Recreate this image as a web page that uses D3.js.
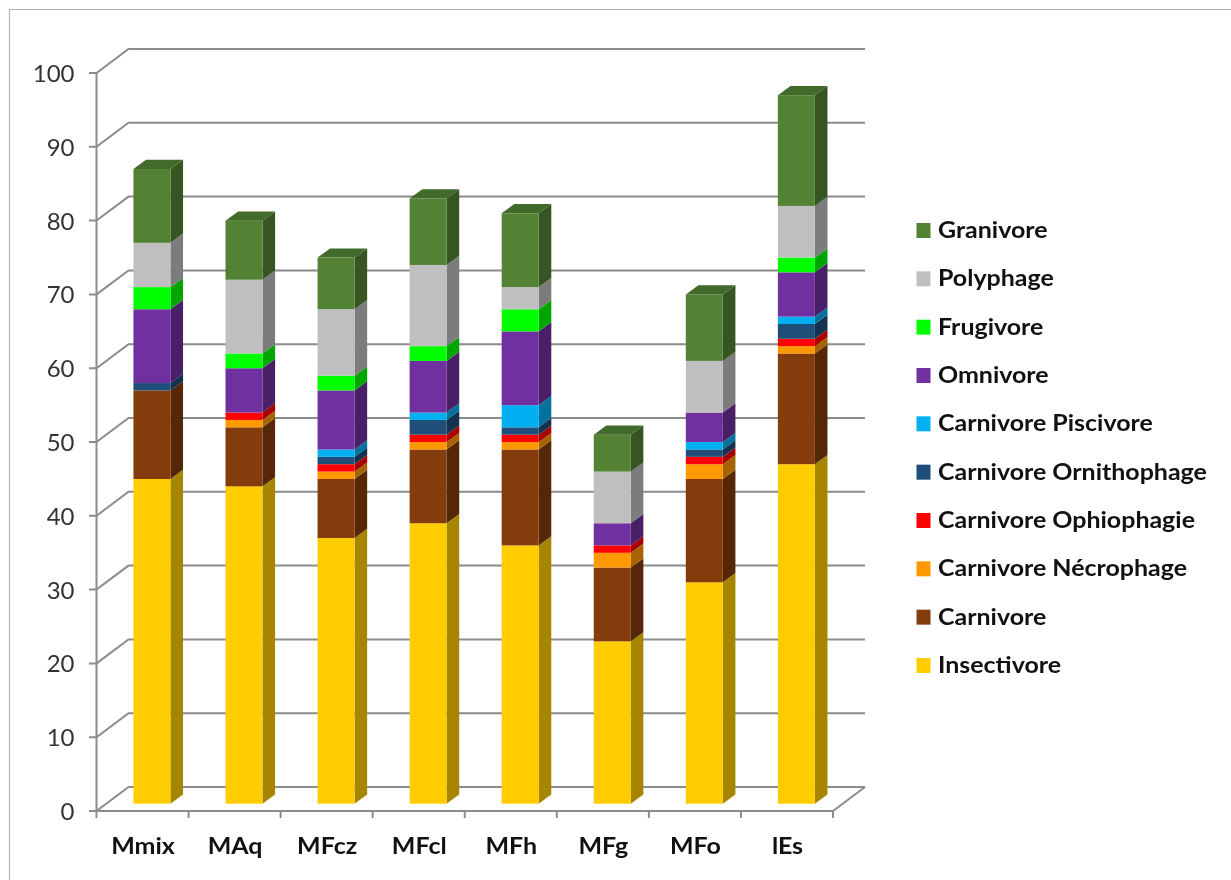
<!DOCTYPE html>
<html><head><meta charset="utf-8">
<style>html,body{margin:0;padding:0;background:#fff}svg{display:block;filter:blur(0.4px)}text{font-family:Lato,"Open Sans",sans-serif}</style>
<script src="https://cdn.jsdelivr.net/npm/d3@7/dist/d3.min.js"></script></head>
<body><svg id="c" width="1231" height="880"></svg>
<script>
const categories = ["Mmix","MAq","MFcz","MFcl","MFh","MFg","MFo","lEs"];
const seriesNames = ["Insectivore","Carnivore","Carnivore Nécrophage","Carnivore Ophiophagie","Carnivore Ornithophage","Carnivore Piscivore","Omnivore","Frugivore","Polyphage","Granivore"];
const insectivore = [44,43,36,38,35,22,30,46];
const carnivore   = [12,8,8,10,13,10,14,15];
const necrophage  = [0,1,1,1,1,2,2,1];
const ophiophagie = [0,1,1,1,1,1,1,1];
const ornithophage= [1,0,1,2,1,0,1,2];
const piscivore   = [0,0,1,1,3,0,1,1];
const omnivore    = [10,6,8,7,10,3,4,6];
const frugivore   = [3,2,2,2,3,0,0,2];
const polyphage   = [6,10,9,11,3,7,7,7];
const granivore   = [10,8,7,9,10,5,9,15];
const seriesValues = [insectivore,carnivore,necrophage,ophiophagie,ornithophage,piscivore,omnivore,frugivore,polyphage,granivore];
const frontColors = ["#FFCC00","#843C0C","#FF9900","#FF0000","#1F4E79","#00B0F0","#7030A0","#00FF00","#BFBFBF","#548235"];
const sideColors  = ["#A68500","#562706","#A66300","#A60000","#14324F","#00729C","#492068","#00A600","#7C7C7C","#365522"];
const topColors   = ["#D9AD00","#70330A","#D98200","#D90000","#1A4267","#0096CC","#5F2988","#00D900","#A2A2A2","#426A2A"];
const yTicks = [0,10,20,30,40,50,60,70,80,90,100];

const svg = d3.select("#c");
const gridColor = "#8C8C8C";
const depth = {x:32, y:-24};        // chart floor depth
const barShift = {x:9.4, y:-7.3};   // front plane of the columns
const barDepth = {x:12.6, y:-9.2};  // column depth
const stretch = 1.135;              // the picture's text is wider than the font's own shapes

const x = d3.scaleBand().domain(categories).range([96.5,833]).paddingInner(0).paddingOuter(0);
const y = d3.scaleLinear().domain([0,100]).range([811,73]);
const barW = 37;
const barX = c => x(c) + x.bandwidth()/2 - barW/2 + barShift.x;
const pt = a => a.map(p=>p.join(",")).join(" ");

// frame
svg.append("path").attr("d","M9.5,880V9.5H1231").attr("fill","none").attr("stroke","#B4B4B4").attr("stroke-width",1.2);

// walls
const grid = svg.append("g").attr("fill","none").attr("stroke",gridColor).attr("stroke-width",2);
yTicks.forEach(t=>{
  const py=y(t);
  grid.append("polyline").attr("points",pt([[89,py],[96.5,py],[96.5+depth.x,py+depth.y],[x.range()[1]+depth.x,py+depth.y]]));
});
grid.append("line").attr("x1",96.5).attr("x2",96.5).attr("y1",y(100)).attr("y2",y(0));
grid.append("polyline").attr("points",pt([[96.5,y(0)],[833,y(0)],[833+depth.x,y(0)+depth.y]]));
categories.concat(["end"]).forEach((c,i)=>{
  const px = c==="end"? 833 : x(c);
  grid.append("line").attr("x1",px).attr("x2",px).attr("y1",y(0)).attr("y2",y(0)+7);
});

// columns
const stack = d3.stack().keys(d3.range(seriesNames.length)).value((d,k)=>seriesValues[k][d]);
const layers = stack(d3.range(categories.length));
const bars = svg.append("g");
categories.forEach((c,ci)=>{
  const g = bars.append("g");
  const X = barX(c);
  let lastTop = null;
  layers.forEach((layer,si)=>{
    const [a,b] = layer[ci];
    if(b<=a) return;
    const y0=y(a)+barShift.y, y1=y(b)+barShift.y;
    g.append("polygon").attr("fill",sideColors[si]).attr("points",pt([[X+barW,y0],[X+barW+barDepth.x,y0+barDepth.y],[X+barW+barDepth.x,y1+barDepth.y],[X+barW,y1]]));
    g.append("rect").attr("x",X).attr("y",y1).attr("width",barW).attr("height",y0-y1).attr("fill",frontColors[si]);
    lastTop={si,y1};
  });
  g.append("polygon").attr("fill",topColors[lastTop.si]).attr("points",pt([[X,lastTop.y1],[X+barW,lastTop.y1],[X+barW+barDepth.x,lastTop.y1+barDepth.y],[X+barDepth.x,lastTop.y1+barDepth.y]]));
});

// y labels
svg.append("g").selectAll("text").data(yTicks).join("text")
  .attr("x",74.5).attr("y",d=>y(d)+9).attr("text-anchor","end")
  .attr("font-size",24).attr("fill","#333").text(d=>d);
// x labels
svg.append("g").selectAll("text").data(categories).join("text")
  .attr("transform",c=>`translate(${x(c)+x.bandwidth()/2+0.5},854) scale(${stretch},1)`).attr("text-anchor","middle")
  .attr("font-size",22).attr("font-weight",700).attr("fill","#111").text(c=>c);

// legend
const legend = d3.scaleLinear().domain([9,0]).range([230,665]);
const lg = svg.append("g").selectAll("g").data(seriesNames).join("g");
lg.append("rect").attr("x",916.5).attr("y",(d,i)=>legend(i)-7).attr("width",14).attr("height",15).attr("fill",(d,i)=>frontColors[i]);
lg.append("text").attr("transform",(d,i)=>`translate(938,${legend(i)+8}) scale(${stretch},1)`).attr("font-size",22).attr("font-weight",700).attr("fill","#111").text(d=>d);
</script></body></html>
